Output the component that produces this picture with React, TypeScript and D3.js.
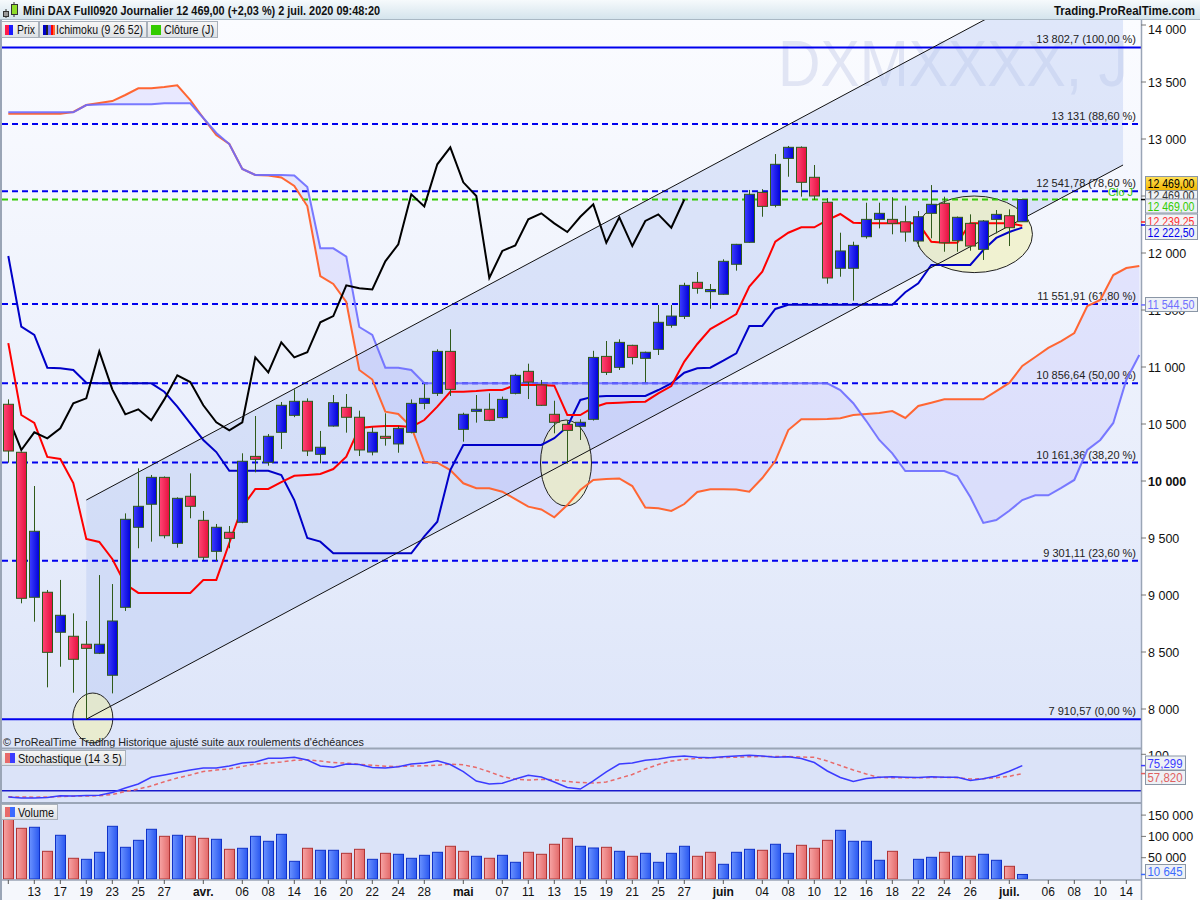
import React from 'react';
import * as d3 from 'd3';

// daily candles, Mar 11 2020 -> Jul 2 2020 (Mini DAX Full0920)
const opens = [10673, 10252, 8980, 9024, 8673, 8638, 8568, 8489, 8296, 8892, 9594, 9796, 10032, 9453, 9866, 9655, 9383, 9550, 9638, 10216,
  10164, 10427, 10576, 10699, 10234, 10482, 10646, 10559, 10254, 10392, 10325, 10427, 10681, 10769, 11137, 10453, 10611, 10629, 10556, 10769,
  10962, 10842, 10585, 10497, 10480, 10541, 11093, 10997, 11190, 11076, 11155, 11366, 11444, 11743, 11661, 11638, 11901, 12094, 12532, 12418,
  12830, 12927, 12664, 12445, 11866, 11866, 12143, 12295, 12295, 12274, 12105, 12348, 12436, 12108, 12260, 12032, 12295, 12327, 12274];
const highs = [10716, 10260, 9956, 9044, 9132, 8839, 8772, 9175, 9096, 9716, 10111, 10053, 10040, 9857, 10067, 9737, 9623, 9605, 10243, 10570,
  10412, 10693, 10804, 10725, 10439, 10754, 10763, 10617, 10471, 10594, 10482, 10716, 10851, 11155, 11331, 10599, 10754, 10769, 10740, 10940,
  11029, 10886, 10704, 10535, 10541, 11142, 11228, 11243, 11195, 11135, 11544, 11544, 11739, 11833, 11728, 11945, 12080, 12553, 12560, 12868,
  12939, 12935, 12772, 12480, 12178, 12099, 12441, 12441, 12489, 12415, 12368, 12596, 12494, 12320, 12339, 12289, 12377, 12383, 12469];
const lows = [10161, 8927, 8766, 8190, 8371, 8143, 7910.57, 8482, 8137, 8860, 9410, 9468, 9497, 9415, 9673, 9307, 9298, 9410, 9630, 10076,
  10134, 10281, 10560, 10219, 10155, 10477, 10424, 10219, 10225, 10310, 10248, 10418, 10629, 10746, 10746, 10345, 10512, 10525, 10547, 10760,
  10719, 10660, 10418, 10155, 10360, 10530, 10930, 10974, 11023, 10866, 11105, 11345, 11421, 11643, 11511, 11635, 11845, 12090, 12318, 12401,
  12669, 12494, 12465, 11731, 11792, 11582, 12126, 12216, 12164, 12099, 12055, 12129, 12011, 12011, 12020, 11939, 12172, 12061, 12274];
const closes = [10263, 8971, 9559, 8497, 8822, 8436, 8532, 8568, 8772, 9664, 9778, 10032, 9520, 9848, 9778, 9331, 9594, 9497, 10173, 10190,
  10392, 10664, 10699, 10263, 10296, 10687, 10559, 10272, 10427, 10374, 10462, 10681, 10725, 11137, 10804, 10585, 10629, 10532, 10716, 10927,
  10868, 10664, 10515, 10444, 10515, 11084, 10953, 11216, 11084, 11129, 11392, 11447, 11716, 11690, 11680, 11927, 12076, 12515, 12409, 12778,
  12927, 12620, 12500, 11781, 12018, 12067, 12295, 12348, 12260, 12184, 12318, 12427, 12090, 12313, 12061, 12281, 12339, 12222, 12469];
const volumes = [140000, 119000, 121400, 65000, 102600, 48600, 46200, 62700, 123700, 74400, 90800, 116700, 100200, 102600, 100200, 95500, 93200, 69700, 72100, 100200,
  88500, 104900, 41500, 72100, 67400, 67400, 60300, 69700, 46200, 60300, 58000, 48600, 55600, 62700, 76800, 65000, 53300, 48600, 55600, 39200,
  62700, 58000, 81500, 95500, 76800, 72800, 74400, 65000, 53300, 60300, 39200, 60300, 76800, 53300, 62700, 34500, 62700, 69700, 67400, 81500,
  60300, 79100, 72100, 90800, 114300, 88500, 88500, 43900, 65000, 0, 46200, 50900, 62700, 53300, 53300, 58000, 43900, 29800, 10645];

// Ichimoku (9 26 52)
const tenkan = [11210, 10579, 10509, 10211, 10193, 9982, 9491, 9465, 9316, 9096, 9018, 9018, 9018, 9018, 9018, 9132, 9132, 9456, 9772, 9930,
  9930, 9991, 10046, 10053, 10061, 10105, 10213, 10465, 10476, 10482, 10482, 10474, 10535, 10652, 10783, 10783, 10789, 10798, 10798, 10842,
  10842, 10842, 10836, 10579, 10579, 10645, 10681, 10687, 10693, 10696, 10769, 10833, 11047, 11202, 11333, 11397, 11465, 11705, 11836, 12099,
  12178, 12225, 12225, 12289, 12342, 12266, 12260, 12260, 12260, 12260, 12260, 12099, 12090, 12090, 12262, 12262, 12262, 12262, 12239];
const kijun = [11974, 11354, 11281, 10994, 10989, 10974, 10862, 10857, 10857, 10857, 10857, 10857, 10783, 10652, 10506, 10360, 10254, 10090, 10090, 10090,
  10090, 10053, 9833, 9500, 9468, 9366, 9366, 9366, 9366, 9366, 9366, 9366, 9515, 9643, 10096, 10316, 10316, 10316, 10316, 10316,
  10316, 10316, 10375, 10476, 10711, 10740, 10746, 10746, 10746, 10746, 10798, 10857, 10950, 10989, 10994, 11055, 11120, 11360, 11360, 11509,
  11545, 11545, 11545, 11545, 11545, 11545, 11545, 11545, 11545, 11656, 11734, 11895, 11895, 11895, 11895, 12026, 12132, 12184, 12223];
// senkou spans, already shifted 26 bars forward (Mar 11 -> Jul 15)
const senkouA = [13221, 13221, 13221, 13221, 13221, 13237, 13298, 13316, 13333, 13386, 13445, 13445, 13456, 13471, 13342, 13184, 13035, 12956, 12737, 12684,
  12680, 12662, 12588, 12412, 11798, 11728, 11570, 10974, 10890, 10608, 10588, 10474, 10169, 10161, 10096, 9980, 9936, 9936, 9906, 9842,
  9775, 9750, 9682, 9789, 9921, 10009, 10018, 10022, 9956, 9768, 9761, 9737, 9798, 9904, 9927, 9927, 9925, 9906, 10026, 10175,
  10447, 10541, 10541, 10544, 10550, 10579, 10588, 10596, 10614, 10553, 10658, 10687, 10717, 10717, 10717, 10717, 10789, 10860, 11009, 11088,
  11167, 11228, 11298, 11535, 11588, 11807, 11868, 11886];
const senkouB = [13234, 13234, 13234, 13234, 13234, 13234, 13298, 13303, 13304, 13304, 13304, 13304, 13313, 13313, 13313, 13184, 13053, 12956, 12737, 12684,
  12684, 12684, 12680, 12579, 12041, 12041, 11969, 11351, 11281, 10994, 10994, 10974, 10857, 10857, 10857, 10857, 10857, 10857, 10857, 10857,
  10857, 10857, 10857, 10857, 10857, 10857, 10857, 10857, 10857, 10857, 10857, 10857, 10857, 10857, 10857, 10857, 10857, 10857, 10857, 10857,
  10857, 10857, 10857, 10857, 10798, 10682, 10526, 10360, 10243, 10088, 10088, 10088, 10088, 10044, 9860, 9632, 9658, 9739, 9833, 9875,
  9875, 9939, 10009, 10272, 10360, 10509, 10886, 11105];

// Stochastique (14 3 5)
const stochK = [6.6, 4.4, 4.4, 5.5, 9.4, 8.8, 9.8, 10.3, 16.4, 26.3, 35, 49.7, 54.7, 60.2, 65.6, 70, 70, 74.4, 81, 83.2,
  91.2, 91.2, 93.4, 87.5, 74.4, 71.6, 78.8, 77.7, 71.1, 70, 72.9, 78.8, 81, 86, 77.7, 61.9, 41.6, 35, 36.5, 46,
  54, 50.3, 39.4, 27.4, 24, 41.6, 61.3, 78.8, 81, 86.9, 89.7, 94, 96.3, 93.4, 92.6, 94.7, 96.3, 97.8, 96.3, 93.4,
  94.5, 90.8, 82, 63.5, 49.2, 40.5, 47, 49.7, 50.8, 49.7, 49.2, 50.8, 49.7, 49.7, 42.7, 46.6, 52.5, 62.8, 75.3];
const stochD = [7, 6.6, 6.1, 6.6, 7.4, 8.3, 8.8, 9.2, 12, 18.6, 24, 30.6, 40, 48.1, 54.7, 62.4, 65.6, 67.8, 73.3, 78.8,
  80.3, 83.2, 86.9, 88, 85.3, 82, 80.5, 78.3, 75.9, 74, 73.3, 74.4, 74.8, 76.1, 78.3, 77, 71.1, 61.7, 51.4, 45.3,
  43.8, 44.9, 44.4, 40.5, 38.3, 37.2, 39.4, 47.5, 55.8, 67.8, 77.7, 85.3, 88.6, 91.2, 92.3, 93, 93.7, 94.7, 95.2, 95.4,
  95, 94.1, 93.4, 85.3, 75.5, 65.6, 56.9, 49.2, 48.8, 48.8, 48.8, 49, 49.7, 48.8, 46, 46.6, 48.6, 51.9, 57.8];

const fibLevels = [13802.7, 13131, 12541.78, 11551.91, 10856.64, 10161.36, 9301.11, 7910.57];
const fibLabels = ['13 802,7 (100,00 %)', '13 131 (88,60 %)', '12 541,78 (78,60 %)', '11 551,91 (61,80 %)',
  '10 856,64 (50,00 %)', '10 161,36 (38,20 %)', '9 301,11 (23,60 %)', '7 910,57 (0,00 %)'];
const lastClose = 12469;

const priceTicks = [8000, 8500, 9000, 9500, 10000, 10500, 11000, 11500, 12000, 12500, 13000, 13500, 14000];
const volumeTicks = [50000, 100000, 150000];
const xTickDates = ['2020-03-13', '2020-03-17', '2020-03-19', '2020-03-23', '2020-03-25', '2020-03-27', '2020-04-01', '2020-04-06',
  '2020-04-08', '2020-04-14', '2020-04-16', '2020-04-20', '2020-04-22', '2020-04-24', '2020-04-28', '2020-05-04', '2020-05-07',
  '2020-05-11', '2020-05-13', '2020-05-15', '2020-05-19', '2020-05-21', '2020-05-25', '2020-05-27', '2020-06-01', '2020-06-04',
  '2020-06-08', '2020-06-10', '2020-06-12', '2020-06-16', '2020-06-18', '2020-06-22', '2020-06-24', '2020-06-26', '2020-07-01',
  '2020-07-06', '2020-07-08', '2020-07-10', '2020-07-14'];
const xTickLabels = ['13', '17', '19', '23', '25', '27', 'avr.', '06', '08', '14', '16', '20', '22', '24', '28', 'mai', '07', '11', '13',
  '15', '19', '21', '25', '27', 'juin', '04', '08', '10', '12', '16', '18', '22', '24', '26', 'juil.', '06', '08', '10', '14'];
const holidays = ['2020-04-10', '2020-04-13', '2020-05-01'];

// drawing objects: channel anchors (bar index, price) and highlight ellipses
const channelIdx = [6, 85.75];
const channelLow = [7910.57, 12772];
const channelHigh = [9833, 14695];
const ellipses = [
  { i: 6.5, p: 7921, ri: 1.54, rp: 219 },
  { i: 42.9, p: 10158, ri: 1.96, rp: 377 },
  { i: 74.3, p: 12164, ri: 4.48, rp: 336 },
];

function tradingDays(start: string, end: string) {
  const out: string[] = [];
  const d = new Date(start + 'T12:00:00Z');
  const e = new Date(end + 'T12:00:00Z');
  while (d <= e) {
    const s = d.toISOString().slice(0, 10);
    const wd = d.getUTCDay();
    if (wd !== 0 && wd !== 6 && holidays.indexOf(s) < 0) out.push(s);
    d.setUTCDate(d.getUTCDate() + 1);
  }
  return out;
}

const FONT = '"Liberation Sans", Arial, sans-serif';
const sp = (v: number) => d3.format(',')(v).replace(/,/g, ' ');

const App = () => {
  const days = tradingDays('2020-03-11', '2020-07-15');
  const x = d3.scaleBand<string>().domain(days).range([1.8, 1.8 + 13 * days.length]);
  const cx = (i: number) => (x(days[0]) as number) + x.bandwidth() / 2 + i * x.step();
  const y = d3.scaleLinear().domain([8000, 14000]).range([709, 25]);
  const yS = d3.scaleLinear().domain([0, 100]).range([800, 754.3]);
  const yV = d3.scaleLinear().domain([0, 150000]).range([879, 815.1]);

  const plotR = 1141;
  const idxLine = (vals: number[], sc: (v: number) => number, offset = 0) =>
    d3.line<number>().x((_, i) => cx(i + offset)).y(v => sc(v))(vals) || '';
  const cloud = d3.area<number>().x((_, i) => cx(i)).y0((_, i) => y(senkouB[i])).y1(v => y(v))(senkouA) || '';
  const chikou = closes.slice(26);

  const chan = [
    [cx(channelIdx[0]), y(channelHigh[0])], [cx(channelIdx[1]), y(channelHigh[1])],
    [cx(channelIdx[1]), y(channelLow[1])], [cx(channelIdx[0]), y(channelLow[0])],
  ];

  const tickX = (dt: string) => cx(days.indexOf(dt));

  const valueBox = (yc: number, text: string, color: string, bg: string, w = 52, key?: string) => (
    <g key={key}>
      <rect x={1145.5} y={yc - 7} width={w} height={14} fill={bg} stroke="#8a96a6" strokeWidth={1} />
      <text x={1147.5} y={yc + 4.5} fontSize={12.5} fill={color} textLength={w - 5} lengthAdjust="spacingAndGlyphs">{text}</text>
    </g>
  );

  return (
    <div style={{ position: 'absolute', left: 0, top: 0 }}>
      <svg width={1200} height={900} style={{ display: 'block', fontFamily: FONT }}>
        <defs>
          <linearGradient id="bgPrice" x1="0" y1="0" x2="0" y2="1">
            <stop offset="0" stopColor="#fbfcff" />
            <stop offset="1" stopColor="#dde5f9" />
          </linearGradient>
          <linearGradient id="hdr" x1="0" y1="0" x2="0" y2="1">
            <stop offset="0" stopColor="#f6fafc" />
            <stop offset="1" stopColor="#d3e3ec" />
          </linearGradient>
          <linearGradient id="btn" x1="0" y1="0" x2="0" y2="1">
            <stop offset="0" stopColor="#f7f7f7" />
            <stop offset="1" stopColor="#dde0e4" />
          </linearGradient>
          <linearGradient id="gRed" x1="0" y1="0" x2="1" y2="0">
            <stop offset="0" stopColor="#ff4676" />
            <stop offset="1" stopColor="#e5103e" />
          </linearGradient>
          <linearGradient id="gBlue" x1="0" y1="0" x2="1" y2="0">
            <stop offset="0" stopColor="#3d3dff" />
            <stop offset="1" stopColor="#0000d8" />
          </linearGradient>
          <linearGradient id="vRed" x1="0" y1="0" x2="1" y2="0">
            <stop offset="0" stopColor="#f7a4a4" />
            <stop offset="1" stopColor="#e36a6a" />
          </linearGradient>
          <linearGradient id="vBlue" x1="0" y1="0" x2="1" y2="0">
            <stop offset="0" stopColor="#6a92ff" />
            <stop offset="1" stopColor="#2a58f0" />
          </linearGradient>
          <linearGradient id="gold" x1="0" y1="0" x2="0" y2="1">
            <stop offset="0" stopColor="#ffe15a" />
            <stop offset="1" stopColor="#f2b600" />
          </linearGradient>
          <clipPath id="clipPrice"><rect x={2} y={20} width={plotR - 2} height={728} /></clipPath>
        </defs>

        {/* backgrounds */}
        <rect x={0} y={0} width={1200} height={900} fill="#ffffff" />
        <rect x={2} y={20} width={plotR - 2} height={728} fill="url(#bgPrice)" />
        <rect x={2} y={749} width={plotR - 2} height={131} fill="#dbe3f8" />
        <rect x={2} y={880} width={plotR - 2} height={20} fill="#f5f7fc" />

        {/* price panel */}
        <g clipPath="url(#clipPrice)">
          <text x={1128} y={86} textAnchor="end" fontSize={64} fill="#e1e5f4" textLength={350} lengthAdjust="spacingAndGlyphs">DXMXXXX, J</text>
          <path d={`M${chan.map(p => p.join(',')).join('L')}Z`} fill="rgba(178,196,242,0.38)" />
          <path d={cloud} fill="rgba(150,140,255,0.16)" />
          {ellipses.map((e, k) => (
            <ellipse key={k} cx={cx(e.i)} cy={y(e.p)} rx={e.ri * x.step()} ry={y(e.p - e.rp) - y(e.p)}
              fill="rgba(240,240,180,0.6)" stroke="#222" strokeWidth={1} />
          ))}
          {fibLevels.map((f, k) => (
            <line key={k} x1={2} x2={plotR} y1={y(f)} y2={y(f)} stroke="#0000ee" strokeWidth={2}
              strokeDasharray={k === 0 || k === fibLevels.length - 1 ? undefined : '6,4'} />
          ))}
          <line x1={2} x2={plotR} y1={y(lastClose)} y2={y(lastClose)} stroke="#33cc00" strokeWidth={2} strokeDasharray="6,4" />
          {fibLevels.map((f, k) => (
            <text key={k} x={1136} y={y(f) - 4} textAnchor="end" fontSize={11} fill="#222">{fibLabels[k]}</text>
          ))}
          <text x={1108} y={196} fontSize={11} fill="#33cc00">Clo J</text>

          <path d={idxLine(senkouA, y)} fill="none" stroke="#ff6633" strokeWidth={2} />
          <path d={idxLine(senkouB, y)} fill="none" stroke="#6b6bff" strokeOpacity={0.9} strokeWidth={2} />
          <path d={idxLine(kijun, y)} fill="none" stroke="#0000c8" strokeWidth={2} />
          <path d={idxLine(tenkan, y)} fill="none" stroke="#ff0000" strokeWidth={2} />
          <path d={idxLine(chikou, y)} fill="none" stroke="#000" strokeWidth={2} />

          <line x1={chan[0][0]} y1={chan[0][1]} x2={chan[1][0]} y2={chan[1][1]} stroke="#111" strokeWidth={1} />
          <line x1={chan[3][0]} y1={chan[3][1]} x2={chan[2][0]} y2={chan[2][1]} stroke="#111" strokeWidth={1} />

          {closes.map((c, i) => {
            const o = opens[i];
            const xc = Math.round(cx(i)) + 0.5;
            const top = y(Math.max(o, c));
            const bot = y(Math.min(o, c));
            return (
              <g key={i}>
                <line x1={xc} x2={xc} y1={y(highs[i])} y2={y(lows[i])} stroke="#2f5a1a" strokeWidth={1} />
                <rect x={xc - 5} y={top} width={10} height={Math.max(bot - top, 2)}
                  fill={c >= o ? 'url(#gBlue)' : 'url(#gRed)'} stroke="#2f5a1a" strokeWidth={1} />
              </g>
            );
          })}
        </g>

        <text x={3} y={746} fontSize={11.5} fill="#222" textLength={361} lengthAdjust="spacingAndGlyphs">© ProRealTime Trading  Historique ajusté suite aux roulements d'échéances</text>

        {/* stochastic */}
        <line x1={2} x2={plotR} y1={yS(20)} y2={yS(20)} stroke="#1a1acc" strokeWidth={1.5} />
        <path d={idxLine(stochD, yS)} fill="none" stroke="#e86a6a" strokeWidth={1.5} strokeDasharray="4,3" />
        <path d={idxLine(stochK, yS)} fill="none" stroke="#3b3bff" strokeWidth={1.5} />

        {/* volume */}
        {volumes.map((v, i) => {
          if (!v) return null;
          const up = i > 0 && closes[i] >= closes[i - 1];
          const xc = Math.round(cx(i)) + 0.5;
          return (
            <rect key={i} x={xc - 5} y={yV(v)} width={10} height={yV(0) - yV(v)}
              fill={up ? 'url(#vBlue)' : 'url(#vRed)'} stroke={up ? '#1032c8' : '#b03434'} strokeWidth={1} />
          );
        })}

        {/* panel separators */}
        <line x1={0} x2={plotR} y1={748.5} y2={748.5} stroke="#9aa5b6" strokeWidth={2} />
        <line x1={0} x2={plotR} y1={803} y2={803} stroke="#9aa5b6" strokeWidth={2} />
        <line x1={0} x2={plotR} y1={880} y2={880} stroke="#9aa5b6" strokeWidth={1.5} />
        <line x1={1} x2={1} y1={20} y2={900} stroke="#9aa5b6" strokeWidth={2} />

        {/* x axis */}
        <line x1={cx(0)} x2={cx(0)} y1={880} y2={884} stroke="#555" />
        {xTickDates.map((dt, k) => {
          const bold = isNaN(+xTickLabels[k]);
          return (
            <g key={k}>
              <line x1={tickX(dt)} x2={tickX(dt)} y1={880} y2={884} stroke="#555" />
              <text x={tickX(dt)} y={896} textAnchor="middle" fontSize={12} fontWeight={bold ? 'bold' : 'normal'} fill="#111">{xTickLabels[k]}</text>
            </g>
          );
        })}

        {/* right axis */}
        <rect x={plotR} y={20} width={59} height={880} fill="#ffffff" />
        <line x1={plotR + 0.5} x2={plotR + 0.5} y1={20} y2={900} stroke="#9aa5b6" strokeWidth={1.5} />
        {priceTicks.map(t => (
          <g key={t}>
            <line x1={plotR} x2={plotR + 5} y1={y(t)} y2={y(t)} stroke="#777" />
            <text x={plotR + 7} y={Math.max(y(t), 29) + 4.5} fontSize={12.5} fontWeight={t === 10000 ? 'bold' : 'normal'} fill="#111">{sp(t)}</text>
          </g>
        ))}
        <line x1={plotR} x2={plotR + 5} y1={yS(100)} y2={yS(100)} stroke="#777" />
        <text x={plotR + 7} y={760} fontSize={12.5} fill="#111">100</text>
        {volumeTicks.map(t => (
          <g key={t}>
            <line x1={plotR} x2={plotR + 5} y1={yV(t)} y2={yV(t)} stroke="#777" />
            <text x={plotR + 7} y={yV(t) + 4.5} fontSize={12.5} fill="#111">{sp(t)}</text>
          </g>
        ))}

        {/* value boxes */}
        <line x1={plotR} x2={plotR + 5} y1={y(lastClose)} y2={y(lastClose)} stroke="#000" strokeWidth={1.5} />
        {valueBox(195, '12 469,00', '#333', '#f0f2f5', 52, 'a')}
        {valueBox(183.5, '12 469,00', '#000', 'url(#gold)', 52, 'b')}
        {valueBox(206, '12 469,00', '#33cc00', '#eef1f5', 52, 'c')}
        <line x1={plotR} x2={plotR + 5} y1={222} y2={222} stroke="#ff2020" strokeWidth={1.5} />
        <line x1={plotR} x2={plotR + 5} y1={225} y2={225} stroke="#0000ee" strokeWidth={1.5} />
        {valueBox(221, '12 239,25', '#ff3030', '#f3f4f7', 52, 'd')}
        {valueBox(232.5, '12 222,50', '#0000ee', '#eef1f5', 52, 'e')}
        <line x1={plotR} x2={plotR + 5} y1={y(11544.5)} y2={y(11544.5)} stroke="#7070ff" strokeWidth={1.5} />
        {valueBox(304.5, '11 544,50', '#7070ff', '#eef1f5', 52, 'f')}
        <line x1={plotR} x2={plotR + 5} y1={yS(75.299)} y2={yS(75.299)} stroke="#3b3bff" strokeWidth={1.5} />
        <line x1={plotR} x2={plotR + 5} y1={yS(57.82)} y2={yS(57.82)} stroke="#e06060" strokeWidth={1.5} />
        {valueBox(763, '75,299', '#3b3bff', '#eef1f5', 40, 'g')}
        {valueBox(777.5, '57,820', '#e06060', '#eef1f5', 40, 'h')}
        <line x1={plotR} x2={plotR + 5} y1={yV(10645)} y2={yV(10645)} stroke="#3b6bff" strokeWidth={1.5} />
        {valueBox(871.5, '10 645', '#3b6bff', '#eef1f5', 40, 'i')}

        {/* header */}
        <rect x={0} y={0} width={1200} height={20} fill="url(#hdr)" />
        <line x1={0} x2={1200} y1={19.5} y2={19.5} stroke="#a9b8c4" />
        <line x1={6} x2={6} y1={9} y2={18} stroke="#333" />
        <rect x={3.5} y={11.5} width={5} height={5} fill="#999" stroke="#333" />
        <line x1={14} x2={14} y1={2} y2={17} stroke="#333" />
        <rect x={11.5} y={4.5} width={6} height={10} fill="#8fdc2a" stroke="#333" />
        <text x={23} y={15} fontSize={12.5} fontWeight="bold" fill="#111" textLength={357} lengthAdjust="spacingAndGlyphs">Mini DAX Full0920 Journalier 12 469,00 (+2,03 %) 2 juil. 2020 09:48:20</text>
        <text x={1195} y={15} textAnchor="end" fontSize={12.5} fontWeight="bold" fill="#111" textLength={141} lengthAdjust="spacingAndGlyphs">Trading.ProRealTime.com</text>

        {/* legend buttons */}
        <g>
          <rect x={1.5} y={21.5} width={37} height={16} fill="url(#btn)" stroke="#a8b0ba" />
          <rect x={5} y={25} width={4} height={10} fill="#ff1a4a" />
          <rect x={9} y={25} width={4} height={10} fill="#1a1aff" />
          <text x={17} y={34} fontSize={12.5} fill="#111" textLength={18} lengthAdjust="spacingAndGlyphs">Prix</text>
          <rect x={39.5} y={21.5} width={107} height={16} fill="url(#btn)" stroke="#a8b0ba" />
          <rect x={43} y={25} width={3} height={10} fill="#0000c8" />
          <rect x={46} y={25} width={2} height={10} fill="#222" />
          <rect x={48} y={25} width={3} height={10} fill="#6b6bff" />
          <rect x={51} y={25} width={2} height={10} fill="#ff0000" />
          <rect x={53} y={25} width={2} height={10} fill="#ff6633" />
          <text x={56} y={34} fontSize={12.5} fill="#111" textLength={87} lengthAdjust="spacingAndGlyphs">Ichimoku (9 26 52)</text>
          <rect x={147.5} y={21.5} width={70} height={16} fill="url(#btn)" stroke="#a8b0ba" />
          <rect x={151} y={25} width={10} height={10} fill="#33cc00" />
          <text x={164} y={34} fontSize={12.5} fill="#111" textLength={50} lengthAdjust="spacingAndGlyphs">Clôture (J)</text>
        </g>
        <g>
          <rect x={1.5} y={750.5} width={124} height={15} fill="url(#btn)" stroke="#a8b0ba" />
          <rect x={5} y={753} width={5} height={10} fill="#e86a6a" />
          <rect x={10} y={753} width={5} height={10} fill="#3b3bff" />
          <text x={18} y={762.5} fontSize={12.5} fill="#111" textLength={104} lengthAdjust="spacingAndGlyphs">Stochastique (14 3 5)</text>
          <rect x={1.5} y={804.5} width={56} height={15} fill="url(#btn)" stroke="#a8b0ba" />
          <rect x={5} y={807} width={5} height={10} fill="#e86a6a" />
          <rect x={10} y={807} width={5} height={10} fill="#3b6bff" />
          <text x={18} y={816.5} fontSize={12.5} fill="#111" textLength={36} lengthAdjust="spacingAndGlyphs">Volume</text>
        </g>
      </svg>
    </div>
  );
};

export default App;
